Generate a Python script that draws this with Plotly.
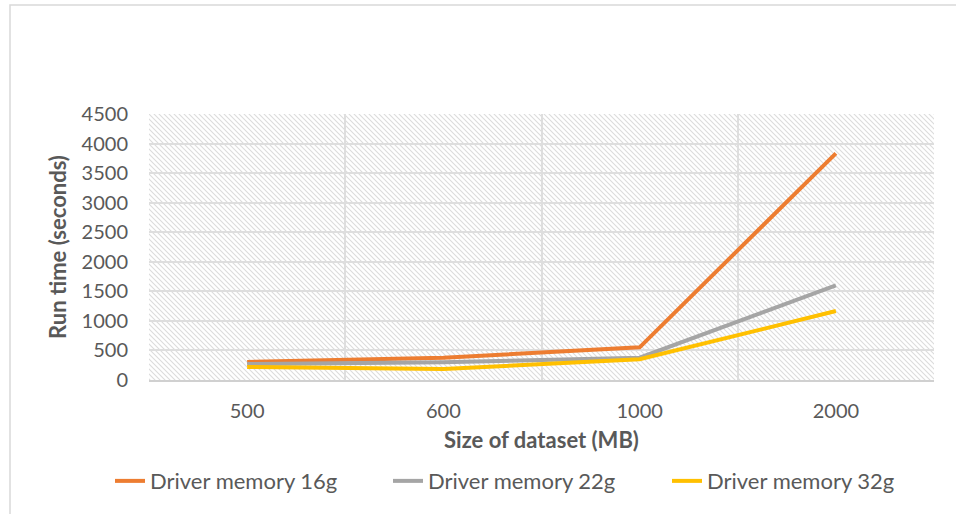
import base64
import plotly.graph_objects as go

categories = ["500", "600", "1000", "2000"]
mem16 = [305, 375, 553, 3835]
mem22 = [270, 300, 378, 1602]
mem32 = [220, 185, 350, 1167]
series_names = ["Driver memory 16g", "Driver memory 22g", "Driver memory 32g"]
colors = ["#ED7D31", "#A5A5A5", "#FFC000"]
y_ticks = list(range(0, 4501, 500))

W, H = 956, 514
L, R, T, B = 149, 22, 114, 134
PW, PH = W - L - R, H - T - B

svg = (
    f'<svg xmlns="http://www.w3.org/2000/svg" width="{PW}" height="{PH}">'
    '<defs><pattern id="p" width="5" height="5" patternUnits="userSpaceOnUse">'
    '<path d="M-1,-1 L6,6 M-1,4 L1,6 M4,-1 L6,1" stroke="#dcdcdc" stroke-width="1.1"/>'
    '</pattern></defs>'
    f'<rect width="{PW}" height="{PH}" fill="white"/>'
    f'<rect width="{PW}" height="{PH}" fill="url(#p)"/></svg>'
)
src = "data:image/svg+xml;base64," + base64.b64encode(svg.encode()).decode()

xi = list(range(len(categories)))
legend_ids = ["legend", "legend2", "legend3"]
legend_px = [110, 388, 667]

fig = go.Figure()
for name, vals, c, lid in zip(series_names, [mem16, mem22, mem32], colors, legend_ids):
    fig.add_trace(go.Scatter(x=xi, y=vals, mode="lines", name=name, legend=lid,
                             line=dict(color=c, width=4)))

font = "Lato, 'Open Sans', sans-serif"
grid = "#dedede"
legends = {}
for lid, px in zip(legend_ids, legend_px):
    legends[lid] = dict(orientation="h", x=(px - L) / PW, y=-0.38, xanchor="left",
                        yanchor="middle", font=dict(size=22, color="#595959"),
                        bgcolor="rgba(0,0,0,0)")
fig.update_layout(
    width=W, height=H,
    margin=dict(l=L, r=R, t=T, b=B),
    paper_bgcolor="white", plot_bgcolor="rgba(0,0,0,0)",
    font=dict(family=font, size=20, color="#595959"),
    showlegend=True,
    images=[dict(source=src, xref="paper", yref="paper", x=0, y=1, sizex=1, sizey=1,
                 xanchor="left", yanchor="top", sizing="stretch", layer="below")],
    shapes=[dict(type="rect", xref="paper", yref="paper",
                 x0=(10 - L) / PW, x1=1.2, y0=-0.7, y1=(T + PH - 5) / PH,
                 line=dict(color="#d9d9d9", width=1.5), fillcolor="rgba(0,0,0,0)", layer="below")],
    **legends,
)
fig.update_xaxes(
    range=[-0.5, len(categories) - 0.5],
    tickvals=xi, ticktext=categories, showgrid=False,
    ticks="", ticklabelstandoff=12,
    minor=dict(tick0=-0.5, dtick=1, showgrid=True, gridcolor=grid, gridwidth=1.5),
    showline=True, linecolor="#d0d0d0", linewidth=1.5, zeroline=False,
    title=dict(text="<b>Size of dataset (MB)</b>", standoff=12,
               font=dict(size=22, color="#595959")),
    automargin=False,
)
fig.update_yaxes(
    range=[0, 4500], tickvals=y_ticks, showgrid=True, gridcolor=grid, gridwidth=1.5,
    zeroline=False, ticks="", ticklabelstandoff=20,
    title=dict(text="<b>Run time (seconds)</b>", standoff=8,
               font=dict(size=22, color="#595959")),
    automargin=False,
)
fig.write_html("out.html", config={"displayModeBar": False},
               post_script="document.body.style.margin='0';")
